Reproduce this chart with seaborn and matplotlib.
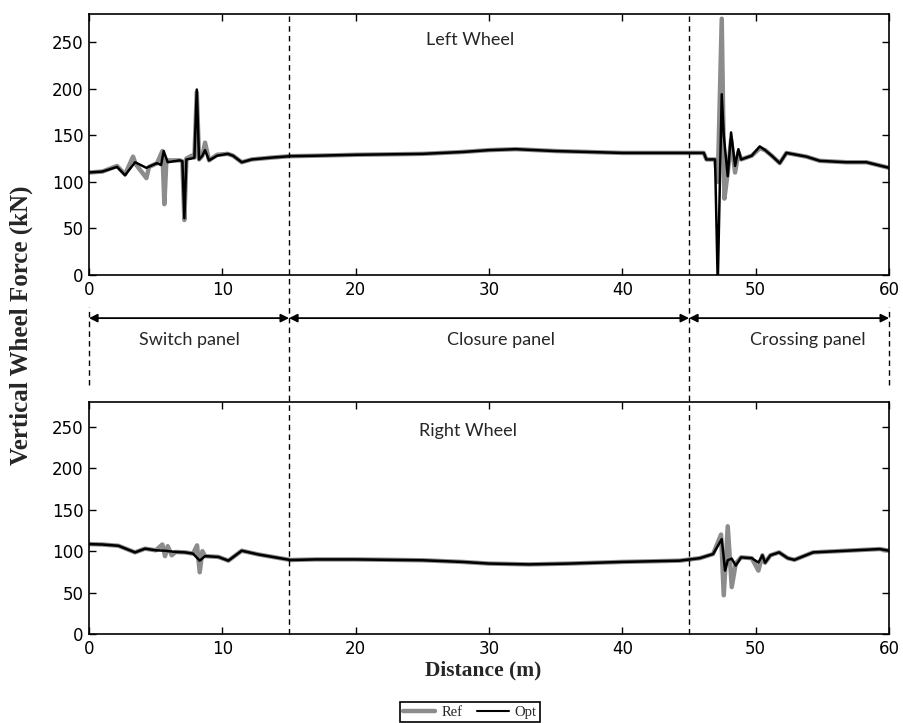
import matplotlib
matplotlib.use("Agg")
import matplotlib.pyplot as plt
import seaborn as sns
from matplotlib.lines import Line2D
from matplotlib.transforms import blended_transform_factory

# ---------------- data ----------------
top_opt_x = [0, 1, 2.1, 2.7, 3.45, 4.3, 5.1, 5.4, 5.6, 5.9, 6.8, 7.0, 7.15, 7.3, 7.7, 7.9, 8.08, 8.25,
             8.5, 8.7, 9.0, 9.6, 10.4, 10.8, 11.45, 12.2, 13.7, 15.1, 17, 20, 25, 28, 30, 32, 35, 40,
             44.3, 46.1, 46.3, 46.95, 47.15, 47.45, 47.6, 47.9, 48.15, 48.45, 48.7, 48.9, 49.7, 50.3,
             50.7, 51.2, 51.8, 52.3, 53.8, 54.8, 56.8, 58.3, 60]
top_opt_y = [110, 111, 116, 107, 121, 115, 120, 118, 133, 121, 123, 122, 61, 124, 125, 126, 199, 124,
             128, 134, 123, 128, 130, 128, 121, 124, 126, 127.5, 128, 129, 130, 132, 134, 135, 133, 131,
             131, 131, 124, 124, -10, 194, 150, 106, 153, 117, 135, 124, 128, 138,
             134, 128, 120, 131, 127, 122.5, 121, 121, 115]

top_ref_x = [0, 1, 2.1, 2.7, 3.3, 3.5, 4.3, 4.5, 5.1, 5.5, 5.65, 5.8, 6.8, 7.0, 7.15, 7.3, 7.7, 7.9,
             8.08, 8.25, 8.5, 8.7, 9.0, 9.6, 10.4, 10.8, 11.45, 12.2, 13.7, 15.1, 17, 20, 25, 28, 30,
             32, 35, 40, 44.3, 46.1, 46.3, 46.95, 47.15, 47.45, 47.65, 47.9, 48.15, 48.45, 48.7, 48.9,
             49.7, 50.3, 50.7, 51.2, 51.8, 52.3, 53.8, 54.8, 56.8, 58.3, 60]
top_ref_y = [110, 111, 117, 108, 127, 119, 104, 116, 120, 133, 76, 123, 123, 122, 59, 125, 128, 126,
             196, 124, 128, 142, 123, 129, 130, 128, 121, 124, 126, 127.5, 128, 129, 130, 132, 134,
             135, 133, 131, 131, 131, 124, 124, 100, 275, 82, 110, 145, 110, 132, 124,
             128, 136, 134, 128, 120, 131, 127, 122.5, 121, 121, 115]

bot_opt_x = [0, 1, 2.2, 3.45, 4.2, 5.0, 5.7, 6.5, 7.2, 7.8, 8.3, 8.7, 9.7, 10.45, 11.45, 12.7, 15.1,
             17, 20, 25, 28, 30, 33, 36, 40, 44.3, 45.8, 46.8, 47.45, 47.7, 47.9, 48.2, 48.5, 48.9,
             49.7, 50.2, 50.5, 50.7, 51.1, 51.75, 52.4, 52.9, 54.3, 56.8, 59.3, 60]
bot_opt_y = [108.5, 108, 106.5, 98.5, 103, 101, 100.5, 99, 98.5, 97, 88.5, 94, 93, 88.5, 100.5, 96,
             89.3, 90, 90, 89, 87, 85, 84, 85, 87, 88.5, 91.5, 96.5, 114.5, 76.5, 89, 91, 82.5, 92.5,
             91.5, 86.3, 95, 86, 95, 98.5, 91.5, 89.5, 98.5, 100.5, 102.5, 100.5]

bot_ref_x = [0, 1, 2.2, 3.45, 4.2, 5.0, 5.5, 5.7, 5.9, 6.2, 6.5, 7.2, 7.8, 8.1, 8.3, 8.5, 8.7, 9.7,
             10.45, 11.45, 12.7, 15.1, 17, 20, 25, 28, 30, 33, 36, 40, 44.3, 45.8, 46.8, 47.4, 47.6,
             47.9, 48.2, 48.5, 48.9, 49.7, 50.2, 50.5, 50.7, 51.1, 51.75, 52.4, 52.9, 54.3, 56.8,
             59.3, 60]
bot_ref_y = [108.5, 108, 106.5, 98.5, 103, 101, 108, 94, 106, 95, 99, 98.5, 97, 107, 74.5, 100, 94,
             93, 88.5, 100.5, 96, 89.3, 90, 90, 89, 87, 85, 84, 85, 87, 88.5, 91.5, 96.5, 120, 46.7,
             130, 56.6, 85, 92.5, 91.5, 76.5, 95, 86, 95, 98.5, 91.5, 89.5, 98.5, 100.5, 102.5, 100.5]

x_ticks = [0, 10, 20, 30, 40, 50, 60]
y_ticks = [0, 50, 100, 150, 200, 250]
panel_bounds = [0, 15, 45, 60]
panel_names = ["Switch panel", "Closure panel", "Crossing panel"]
panel_label_x = [7.5, 30.9, 53.9]
series_names = ["Ref", "Opt"]

# ---------------- style ----------------
sns.set_style("ticks")
plt.rcParams["font.family"] = ["DejaVu Sans"]

fig = plt.figure(figsize=(9.04, 7.23), dpi=100)
ax1 = fig.add_axes([0.0985, 0.6196, 0.8850, 0.3610])
ax2 = fig.add_axes([0.0985, 0.1231, 0.8850, 0.3209])

ref_color = "#8c8c8c"
opt_color = "#000000"

for ax, rx, ry, ox, oy in [(ax1, top_ref_x, top_ref_y, top_opt_x, top_opt_y),
                           (ax2, bot_ref_x, bot_ref_y, bot_opt_x, bot_opt_y)]:
    sns.lineplot(x=rx, y=ry, ax=ax, color=ref_color, lw=3.2, estimator=None, sort=False)
    sns.lineplot(x=ox, y=oy, ax=ax, color=opt_color, lw=1.8, estimator=None, sort=False)
    ax.set_xlim(0, 60)
    ax.set_ylim(0, 280)
    ax.set_xticks(x_ticks)
    ax.set_yticks(y_ticks)
    ax.tick_params(direction="in", top=True, right=True, length=5, width=1,
                   labelsize=12, colors="black", pad=4)
    for s in ax.spines.values():
        s.set_visible(True)
        s.set_color("black")
        s.set_linewidth(1.2)
    ax.set_xlabel("")
    ax.set_ylabel("")

ax1.text(28.6, 252, "Left Wheel", ha="center", va="center", fontsize=13,
         family=["Lato", "DejaVu Sans"])
ax2.text(28.4, 245, "Right Wheel", ha="center", va="center", fontsize=13,
         family=["Lato", "DejaVu Sans"])

fig.text(0.534, 0.072, "Distance (m)", ha="center", va="center",
         family="Liberation Serif", fontweight="bold", fontsize=15.5)
fig.text(0.023, 0.550, "Vertical Wheel Force (kN)", rotation=90, ha="center", va="center",
         family="Liberation Serif", fontweight="bold", fontsize=18)

# dashed boundary lines
tr = blended_transform_factory(ax1.transData, fig.transFigure)
for b in [15, 45]:
    fig.add_artist(Line2D([b, b], [0.1231, 0.9806], transform=tr, color="black", lw=1,
                          ls=(0, (4, 3))))
for b in [0, 60]:
    fig.add_artist(Line2D([b, b], [0.468, 0.575], transform=tr, color="black", lw=1,
                          ls=(0, (4, 3))))

# arrows and panel names
for i in range(3):
    ax1.annotate("", xy=(panel_bounds[i], 0.560), xytext=(panel_bounds[i + 1], 0.560),
                 xycoords=("data", "figure fraction"), textcoords=("data", "figure fraction"),
                 arrowprops=dict(arrowstyle="<|-|>", color="black", lw=1.3,
                                 shrinkA=0, shrinkB=0, mutation_scale=12),
                 annotation_clip=False)
    ax1.annotate(panel_names[i], xy=(panel_label_x[i], 0.530),
                 xycoords=("data", "figure fraction"), ha="center", va="center",
                 fontsize=13, family=["Lato", "DejaVu Sans"], annotation_clip=False)

handles = [Line2D([], [], color=ref_color, lw=3.2), Line2D([], [], color=opt_color, lw=1.5)]
leg = fig.legend(handles, series_names, loc="lower center", bbox_to_anchor=(0.52, -0.002), ncol=2,
                 frameon=True, fancybox=False, edgecolor="black", framealpha=1,
                 prop={"family": "Liberation Serif", "size": 10.5}, handlelength=2.2,
                 columnspacing=1.0, handletextpad=0.4, borderpad=0.2, borderaxespad=0.2)
leg.get_frame().set_linewidth(1.2)

fig.savefig("out.png", dpi=100)
